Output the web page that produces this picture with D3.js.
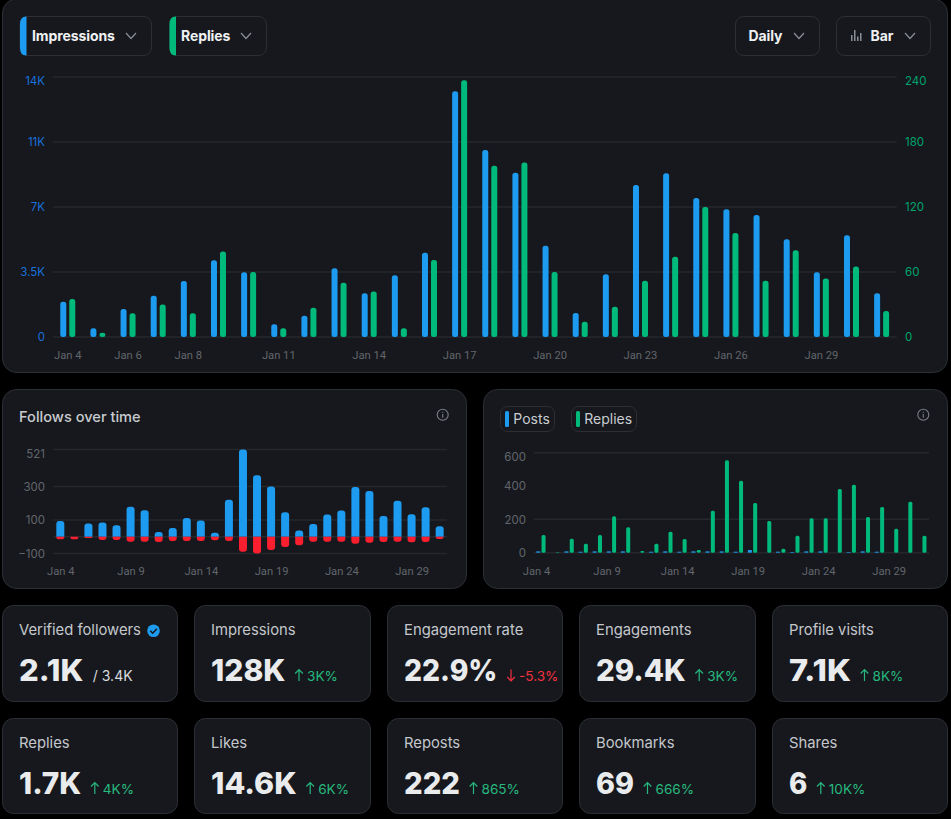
<!DOCTYPE html>
<html><head><meta charset="utf-8">
<script src="https://cdn.jsdelivr.net/npm/d3@7/dist/d3.min.js"></script>
<style>
html,body{margin:0;padding:0;background:#000;overflow:hidden}
svg{display:block}
text{font-family:Inter,"Noto Sans",sans-serif}
</style></head><body>
<svg id="c" width="951" height="819"></svg>
<script>
const days = ["Jan 4","Jan 5","Jan 6","Jan 7","Jan 8","Jan 9","Jan 10","Jan 11","Jan 12","Jan 13","Jan 14","Jan 15","Jan 16","Jan 17","Jan 18","Jan 19","Jan 20","Jan 21","Jan 22","Jan 23","Jan 24","Jan 25","Jan 26","Jan 27","Jan 28","Jan 29","Jan 30","Jan 31"];
const impressions = [1903,467,1508,2226,3015,4128,3482,682,1149,3697,2351,3321,4541,13228,10069,8849,4918,1292,3374,8185,8813,7485,6874,6569,5259,3482,5474,2351];
const repliesTop = [35,4,22,30,22,79,60,8,27,50,42,8,71,237,158,161,60,14,28,52,74,120,96,52,80,54,65,24];
const followsGained = [94,0,78,84,68,178,158,28,52,112,96,24,220,521,366,300,146,36,76,132,156,296,272,124,214,134,176,62];
const followsLost = [-16,-16,-8,-20,-20,-30,-30,-32,-26,-26,-26,-22,-26,-90,-100,-80,-62,-52,-30,-30,-30,-42,-36,-32,-30,-34,-32,-14];
const posts = [8,0,8,6,8,8,8,0,6,8,6,8,8,8,6,16,0,6,4,8,8,0,4,8,6,0,0,0];
const repliesDaily = [106,2,84,54,106,218,152,10,54,126,82,16,252,554,432,298,190,24,102,206,206,382,408,214,274,144,306,102];
const topTicksLeft = [0,3500,7000,10500,14000];
const topTicksLeftLabels = ["0","3.5K","7K","11K","14K"];
const topTicksRight = [0,60,120,180,240];
const topDayTicks = ["Jan 4","Jan 6","Jan 8","Jan 11","Jan 14","Jan 17","Jan 20","Jan 23","Jan 26","Jan 29"];
const smallDayTicks = ["Jan 4","Jan 9","Jan 14","Jan 19","Jan 24","Jan 29"];
const followTicks = [-100,100,300,521];
const postTicks = [0,200,400,600];
const postGrid = [0,200,600];
const statLabels = ["Verified followers","Impressions","Engagement rate","Engagements","Profile visits","Replies","Likes","Reposts","Bookmarks","Shares"];
const statValues = ["2.1K","128K","22.9%","29.4K","7.1K","1.7K","14.6K","222","69","6"];
const statDeltas = ["/ 3.4K","3K%","-5.3%","3K%","8K%","4K%","6K%","865%","666%","10K%"];
const statValueWidths = [64.3,74.5,93.5,89.7,62,62.3,85.7,56,38,18.3];

const BLUE="#1d9bf0",GREEN="#00ba7c",RED="#f91f2f",CARD="#16181d",BORDER="#2c2f34",GRID="#24272c";
const svg=d3.select("#c");
function card(x0,y0,x1,y1,r){svg.append("rect").attr("x",x0).attr("y",y0).attr("width",x1-x0).attr("height",y1-y0).attr("rx",r).attr("fill",CARD).attr("stroke",BORDER).attr("stroke-width",1);}
function chevron(cx,cy){svg.append("path").attr("d",`M${cx-5} ${cy-3}L${cx} ${cy+2.5}L${cx+5} ${cy-3}`).attr("fill","none").attr("stroke","#8b8f95").attr("stroke-width",1.2);}
function button(x0,x1,label,tx,chev,color){
  svg.append("rect").attr("x",x0).attr("y",16.5).attr("width",x1-x0).attr("height",39).attr("rx",8).attr("fill",CARD).attr("stroke",BORDER);
  if(color){svg.append("path").attr("d",`M${x0+6.5} 16.5H${x0+6}Q${x0} 16.5 ${x0} 24V48Q${x0} 55.5 ${x0+6} 55.5H${x0+6.5}Z`).attr("fill",color);}
  svg.append("text").attr("x",tx).attr("y",36).attr("dy","0.35em").attr("fill","#eff1f3").attr("font-size",14).attr("font-weight",700).attr("letter-spacing",-0.1).text(label);
  chevron(chev,36);
}
function styleAxis(g,fill,size,family){g.select(".domain").remove();g.selectAll(".tick line").remove();g.selectAll("text").attr("fill",fill).attr("font-size",size).style("font-family",family||"Inter,'Noto Sans',sans-serif");}
function topRounded(x,w,y0,y1,r){
  const s=y1<y0?1:-1; r=Math.min(r,Math.abs(y1-y0),w/2);
  return `M${x} ${y0}V${y1+s*r}Q${x} ${y1} ${x+r} ${y1}H${x+w-r}Q${x+w} ${y1} ${x+w} ${y1+s*r}V${y0}Z`;
}
function grid(vals,y,x0,x1){svg.append("g").selectAll("line").data(vals).join("line").attr("x1",x0).attr("x2",x1).attr("y1",d=>y(d)).attr("y2",d=>y(d)).attr("stroke",GRID).attr("stroke-width",1.5);}

/* ---- top chart ---- */
card(2.5,-1,947.5,372.5,14);
button(20,151.5,"Impressions",32,131,BLUE);
button(169.5,266.5,"Replies",181,246,GREEN);
button(735.5,819.5,"Daily",748.5,799);
button(836.5,930.5,"Bar",870.5,910);
svg.append("g").selectAll("rect").data([6,11,4.5,8]).join("rect").attr("x",(d,i)=>851+i*3).attr("y",d=>41-d).attr("width",1.5).attr("height",d=>d).attr("fill","#8b8f95");

const xT=d3.scaleBand().domain(days).range([52.7,896.7]);
const yL=d3.scaleLinear().domain([0,14000]).range([337,77]);
const yR=d3.scaleLinear().domain([0,240]).range([337,77]);
grid(topTicksLeft,yL,52.7,896.7);
svg.append("g").attr("transform","translate(45,0)").call(d3.axisLeft(yL).tickValues(topTicksLeft).tickSize(0).tickPadding(0).tickFormat((d,i)=>topTicksLeftLabels[i])).call(g=>styleAxis(g,"#1a70dc",11.5)).call(g=>g.selectAll(".tick").filter(d=>d===14000).select("text").attr("dy","0.62em"));
svg.append("g").attr("transform","translate(905,0)").call(d3.axisRight(yR).tickValues(topTicksRight).tickSize(0).tickPadding(0)).call(g=>styleAxis(g,"#00a56e",11.5)).call(g=>g.selectAll(".tick").filter(d=>d===240).select("text").attr("dy","0.62em"));
svg.append("g").attr("transform","translate(0,351)").call(d3.axisBottom(xT).tickValues(topDayTicks).tickSize(0).tickPadding(0)).call(g=>styleAxis(g,"#62666c",11.2,"Roboto,sans-serif"));
svg.append("g").selectAll("rect").data(days).join("rect").attr("x",d=>xT(d)+xT.bandwidth()/2-7.5).attr("y",(d,i)=>yL(impressions[i])).attr("width",6).attr("height",(d,i)=>yL(0)-yL(impressions[i])).attr("rx",2.5).attr("fill",BLUE);
svg.append("g").selectAll("rect").data(days).join("rect").attr("x",d=>xT(d)+xT.bandwidth()/2+1.5).attr("y",(d,i)=>yR(repliesTop[i])).attr("width",6).attr("height",(d,i)=>yR(0)-yR(repliesTop[i])).attr("rx",2.5).attr("fill",GREEN);

function info(cx,cy){
  svg.append("circle").attr("cx",cx).attr("cy",cy).attr("r",5.5).attr("fill","none").attr("stroke","#7b7f85").attr("stroke-width",1.1);
  svg.append("path").attr("d",`M${cx} ${cy-0.8}V${cy+3}M${cx} ${cy-3}V${cy-2}`).attr("stroke","#7b7f85").attr("stroke-width",1.1);
}

/* ---- follows chart ---- */
card(2.5,389.5,466.5,588.5,14);
svg.append("text").attr("x",19).attr("y",417).attr("dy","0.35em").attr("fill","#c9ccd0").attr("font-size",14.6).attr("font-weight",500).text("Follows over time");
info(442.7,414.7);
const xF=d3.scaleBand().domain(days).range([53.3,446.7]);
const yF=d3.scaleLinear().domain([-100,521]).range([553.4,449.4]);
grid([...followTicks,0],yF,53.3,446.7);
svg.append("g").attr("transform","translate(45,0)").call(d3.axisLeft(yF).tickValues(followTicks).tickSize(0).tickPadding(0)).call(g=>styleAxis(g,"#62666c",11.5)).call(g=>g.selectAll(".tick").filter(d=>d===521).select("text").attr("dy","0.68em"));
svg.append("g").attr("transform","translate(0.5,567.5)").call(d3.axisBottom(xF).tickValues(smallDayTicks).tickSize(0).tickPadding(0)).call(g=>styleAxis(g,"#62666c",11.2,"Roboto,sans-serif"));
svg.append("g").selectAll("path").data(days).join("path").attr("d",(d,i)=>followsGained[i]?topRounded(xF(d)+xF.bandwidth()/2-4,8,yF(0),yF(followsGained[i]),3):"").attr("fill",BLUE);
svg.append("g").selectAll("path").data(days).join("path").attr("d",(d,i)=>topRounded(xF(d)+xF.bandwidth()/2-4,8,yF(0),yF(followsLost[i]),3)).attr("fill",RED);

/* ---- posts / replies chart ---- */
card(483.5,389.5,947.5,588.5,14);
info(923.3,414.7);
function chip(x0,x1,label,sx,tx,color){
  svg.append("rect").attr("x",x0).attr("y",406.5).attr("width",x1-x0).attr("height",25).attr("rx",7).attr("fill",CARD).attr("stroke",BORDER);
  svg.append("rect").attr("x",sx).attr("y",411).attr("width",4).attr("height",16).attr("rx",1.5).attr("fill",color);
  svg.append("text").attr("x",tx).attr("y",419).attr("dy","0.35em").attr("fill","#c9ccd0").attr("font-size",14).text(label);
}
chip(500.5,554.5,"Posts",505,513.3,BLUE);
chip(571.5,636.5,"Replies",576,584.3,GREEN);
const xP=d3.scaleBand().domain(days).range([534,929]);
const yP=d3.scaleLinear().domain([0,600]).range([552.7,452.7]);
grid(postGrid,yP,534,929);
svg.append("g").attr("transform","translate(526,0)").call(d3.axisLeft(yP).tickValues(postTicks).tickSize(0).tickPadding(0)).call(g=>styleAxis(g,"#62666c",11.5)).call(g=>g.selectAll(".tick").filter(d=>d===600).select("text").attr("dy","0.68em"));
svg.append("g").attr("transform","translate(-4.5,567.5)").call(d3.axisBottom(xP).tickValues(smallDayTicks).tickSize(0).tickPadding(0)).call(g=>styleAxis(g,"#62666c",11.2,"Roboto,sans-serif"));
svg.append("g").selectAll("rect").data(days).join("rect").attr("x",d=>xP(d)+xP.bandwidth()/2-4.8).attr("y",(d,i)=>yP(posts[i])).attr("width",4).attr("height",(d,i)=>yP(0)-yP(posts[i])).attr("fill",BLUE);
svg.append("g").selectAll("rect").data(days).join("rect").attr("x",d=>xP(d)+xP.bandwidth()/2+0.5).attr("y",(d,i)=>yP(repliesDaily[i])).attr("width",4).attr("height",(d,i)=>yP(0)-yP(repliesDaily[i])).attr("rx",1.5).attr("fill",GREEN);

/* ---- stat cards ---- */
const colEdges=[[2.5,177.5],[194.5,370.5],[387.5,562.5],[579.5,755.5],[772.5,947.5]];
const rowEdges=[[605.5,701.5],[718.5,813.5]];
statLabels.forEach((lab,i)=>{
  const [x0,x1]=colEdges[i%5],[y0,y1]=rowEdges[Math.floor(i/5)];
  card(x0,y0,x1,y1,11);
  const tx=x0+16.5, labY=y0+24.7, base=y0+75.5;
  svg.append("text").attr("x",tx).attr("y",labY).attr("dy","0.35em").attr("fill","#c4c7cc").attr("font-size",14.8).text(lab);
  svg.append("text").attr("x",tx).attr("y",base).attr("fill","#e9ebed").attr("font-size",30).attr("font-weight",800).attr("textLength",statValueWidths[i]).attr("lengthAdjust","spacingAndGlyphs").text(statValues[i]);
  const end=tx+statValueWidths[i]+9.5;
  const d=statDeltas[i];
  if(d.startsWith("/")){
    svg.append("text").attr("x",end).attr("y",base).attr("fill","#d9dbde").attr("font-size",14).text(d);
  }else{
    const neg=d.startsWith("-"), col=neg?"#f4303f":"#26b87e", ax=end+4, t=base-11.5, b=base;
    svg.append("path").attr("d",neg?`M${ax} ${t}V${b}M${ax-3.8} ${b-4}L${ax} ${b}L${ax+3.8} ${b-4}`:`M${ax} ${b}V${t}M${ax-3.8} ${t+4}L${ax} ${t}L${ax+3.8} ${t+4}`).attr("fill","none").attr("stroke",col).attr("stroke-width",1.2);
    svg.append("text").attr("x",end+12).attr("y",base).attr("fill",col).attr("font-size",13.6).text(d);
  }
});
/* verified badge */
svg.append("circle").attr("cx",153.5).attr("cy",630.7).attr("r",6.3).attr("fill",BLUE);
svg.append("path").attr("d","M150.3 630.8L152.7 633.2L156.9 628.7").attr("fill","none").attr("stroke","#16181d").attr("stroke-width",1.5);
</script>
</body></html>
